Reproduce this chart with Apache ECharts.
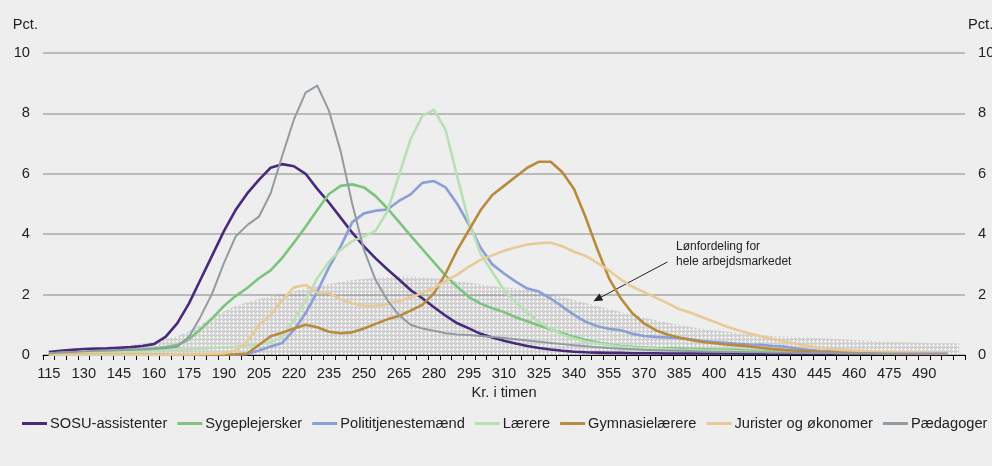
<!DOCTYPE html>
<html>
<head>
<meta charset="utf-8">
<script src="https://cdn.jsdelivr.net/npm/echarts@6/dist/echarts.min.js"></script>
<style>
  html, body { margin: 0; padding: 0; background: #eeeeee; }
  #chart { width: 992px; height: 466px; }
</style>
</head>
<body>
<div id="chart"></div>
<script>
// kr. i timen (5 kr. intervaller)
const categories = [
  "115", "120", "125", "130", "135", "140", "145", "150", "155", "160",
  "165", "170", "175", "180", "185", "190", "195", "200", "205", "210",
  "215", "220", "225", "230", "235", "240", "245", "250", "255", "260",
  "265", "270", "275", "280", "285", "290", "295", "300", "305", "310",
  "315", "320", "325", "330", "335", "340", "345", "350", "355", "360",
  "365", "370", "375", "380", "385", "390", "395", "400", "405", "410",
  "415", "420", "425", "430", "435", "440", "445", "450", "455", "460",
  "465", "470", "475", "480", "485", "490", "495", "500", "505",
];
const yTicks = [0, 2, 4, 6, 8, 10];

const sosu = [
  0.10, 0.14, 0.17, 0.20, 0.21, 0.22, 0.24, 0.26, 0.30, 0.36,
  0.60, 1.05, 1.70, 2.50, 3.30, 4.10, 4.80, 5.35, 5.80, 6.20,
  6.32, 6.25, 6.00, 5.50, 5.05, 4.55, 4.05, 3.60, 3.20, 2.84,
  2.50, 2.15, 1.88, 1.58, 1.30, 1.05, 0.88, 0.70, 0.58, 0.47,
  0.38, 0.30, 0.23, 0.18, 0.14, 0.11, 0.09, 0.08, 0.07, 0.07,
  0.06, 0.06, 0.06, 0.05, 0.05, 0.05, 0.05, 0.05, 0.05, 0.05,
  0.04, 0.04, 0.04, 0.04, 0.04, 0.04, 0.04, 0.04, 0.04, 0.04,
  0.04, 0.04, 0.04, 0.03, 0.03, 0.03, 0.03, 0.03, null,
];
const sygeplejersker = [
  0.05, 0.07, 0.09, 0.10, 0.12, 0.13, 0.15, 0.17, 0.19, 0.22,
  0.26, 0.33, 0.52, 0.85, 1.22, 1.62, 1.95, 2.22, 2.54, 2.80,
  3.22, 3.72, 4.25, 4.80, 5.33, 5.60, 5.65, 5.55, 5.26, 4.86,
  4.41, 3.95, 3.51, 3.07, 2.63, 2.25, 1.92, 1.70, 1.55, 1.42,
  1.25, 1.12, 0.98, 0.85, 0.72, 0.60, 0.50, 0.41, 0.35, 0.30,
  0.27, 0.25, 0.23, 0.22, 0.21, 0.20, 0.19, 0.18, 0.17, 0.16,
  0.15, 0.14, 0.13, 0.12, 0.11, 0.10, 0.10, 0.09, 0.09, 0.08,
  0.08, 0.07, 0.07, 0.06, 0.06, 0.05, 0.05, 0.05, null,
];
const politi = [
  0, 0, 0, 0, 0, 0, 0, 0, 0, 0,
  0, 0, 0, 0, 0, 0, 0.01, 0.03, 0.15, 0.28,
  0.40, 0.83, 1.38, 2.10, 2.90, 3.59, 4.40, 4.69, 4.78, 4.82,
  5.10, 5.32, 5.70, 5.76, 5.55, 5.00, 4.32, 3.55, 3.00, 2.70,
  2.43, 2.20, 2.10, 1.87, 1.60, 1.33, 1.10, 0.95, 0.87, 0.82,
  0.70, 0.63, 0.60, 0.58, 0.56, 0.52, 0.46, 0.43, 0.40, 0.37,
  0.35, 0.34, 0.30, 0.28, 0.22, 0.17, 0.14, 0.12, 0.10, 0.09,
  0.08, 0.08, 0.07, 0.07, 0.06, 0.06, 0.05, 0.05, null,
];
const laerere = [
  0.02, 0.04, 0.05, 0.06, 0.07, 0.08, 0.09, 0.10, 0.12, 0.13,
  0.15, 0.17, 0.19, 0.21, 0.23, 0.25, 0.27, 0.32, 0.36, 0.42,
  0.60, 1.16, 1.82, 2.54, 3.09, 3.48, 3.77, 3.92, 4.12, 4.75,
  5.95, 7.15, 7.92, 8.12, 7.45, 5.90, 4.40, 3.35, 2.75, 2.15,
  1.75, 1.40, 1.10, 0.87, 0.67, 0.55, 0.45, 0.38, 0.33, 0.28,
  0.25, 0.23, 0.21, 0.19, 0.17, 0.16, 0.15, 0.14, 0.13, 0.12,
  0.11, 0.11, 0.10, 0.10, 0.09, 0.09, 0.08, 0.08, 0.07, 0.07,
  0.07, 0.06, 0.06, 0.06, 0.05, 0.05, 0.05, 0.05, null,
];
const gymnasie = [
  0.01, 0.01, 0.01, 0.01, 0.01, 0.01, 0.01, 0.01, 0.01, 0.01,
  0.01, 0.01, 0.01, 0.01, 0.01, 0.01, 0.02, 0.05, 0.33, 0.62,
  0.74, 0.88, 1.00, 0.92, 0.77, 0.72, 0.75, 0.88, 1.03, 1.18,
  1.29, 1.47, 1.66, 2.04, 2.70, 3.48, 4.14, 4.80, 5.30, 5.60,
  5.90, 6.20, 6.40, 6.40, 6.05, 5.50, 4.55, 3.50, 2.54, 1.88,
  1.38, 1.05, 0.82, 0.68, 0.58, 0.50, 0.43, 0.39, 0.35, 0.32,
  0.28, 0.24, 0.20, 0.17, 0.14, 0.12, 0.10, 0.09, 0.08, 0.07,
  0.07, 0.06, 0.06, 0.05, 0.05, 0.05, 0.04, 0.04, null,
];
const jurister = [
  0.01, 0.01, 0.01, 0.01, 0.01, 0.01, 0.01, 0.01, 0.01, 0.01,
  0.01, 0.02, 0.02, 0.03, 0.04, 0.05, 0.15, 0.45, 0.99, 1.32,
  1.82, 2.24, 2.32, 2.07, 2.06, 1.84, 1.71, 1.62, 1.63, 1.68,
  1.79, 1.90, 2.06, 2.22, 2.45, 2.66, 2.93, 3.15, 3.30, 3.45,
  3.56, 3.66, 3.70, 3.72, 3.60, 3.42, 3.28, 3.05, 2.80, 2.50,
  2.26, 2.08, 1.90, 1.72, 1.52, 1.40, 1.25, 1.10, 0.95, 0.83,
  0.72, 0.62, 0.53, 0.45, 0.37, 0.30, 0.25, 0.20, 0.17, 0.15,
  0.13, 0.11, 0.10, 0.09, 0.08, 0.07, 0.06, 0.05, null,
];
const paedagoger = [
  0.05, 0.08, 0.10, 0.12, 0.14, 0.15, 0.16, 0.17, 0.18, 0.20,
  0.22, 0.27, 0.60, 1.27, 2.04, 3.04, 3.92, 4.30, 4.58, 5.35,
  6.60, 7.80, 8.69, 8.92, 8.09, 6.75, 5.00, 3.48, 2.48, 1.82,
  1.32, 1.00, 0.88, 0.80, 0.72, 0.68, 0.66, 0.63, 0.60, 0.56,
  0.52, 0.48, 0.44, 0.40, 0.36, 0.32, 0.29, 0.26, 0.23, 0.21,
  0.19, 0.17, 0.16, 0.15, 0.14, 0.13, 0.12, 0.11, 0.10, 0.10,
  0.09, 0.09, 0.08, 0.08, 0.08, 0.07, 0.07, 0.07, 0.06, 0.06,
  0.06, 0.06, 0.05, 0.05, 0.05, 0.05, 0.05, 0.05, null,
];
// hele arbejdsmarkedet (skraveret areal)
const heleMarkedet = [
  0.02, 0.05, 0.08, 0.12, 0.17, 0.22, 0.28, 0.33, 0.38, 0.44,
  0.52, 0.62, 0.80, 1.00, 1.25, 1.45, 1.62, 1.75, 1.85, 1.93,
  2.00, 2.10, 2.20, 2.28, 2.35, 2.42, 2.48, 2.52, 2.56, 2.58,
  2.60, 2.60, 2.58, 2.55, 2.50, 2.45, 2.40, 2.34, 2.28, 2.24,
  2.20, 2.15, 2.08, 2.00, 1.92, 1.82, 1.72, 1.62, 1.52, 1.42,
  1.33, 1.24, 1.15, 1.07, 1.00, 0.93, 0.87, 0.82, 0.78, 0.74,
  0.70, 0.66, 0.63, 0.61, 0.60, 0.58, 0.56, 0.54, 0.52, 0.50,
  0.48, 0.46, 0.44, 0.42, 0.41, 0.40, 0.39, 0.39, 0.38,
];

const names = [
  "SOSU-assistenter", "Sygeplejersker", "Polititjenestemænd", "Lærere",
  "Gymnasielærere", "Jurister og økonomer", "Pædagoger",
];
const values = [sosu, sygeplejersker, politi, laerere, gymnasie, jurister, paedagoger];
const colors = ["#47297d", "#7cc47d", "#8c9ed6", "#b9e0b4", "#b88a3b", "#e8ca98", "#929aa2"];

// lille prikmønster til arealet (halvgennemsigtigt, så gitterlinjen ses igennem)
const makePattern = () => {
  const c = document.createElement("canvas");
  c.width = 4;
  c.height = 4;
  const ctx = c.getContext("2d");
  ctx.fillStyle = "rgba(140,140,140,0.3)";
  ctx.fillRect(0, 0, 4, 4);
  ctx.clearRect(1, 0, 1, 3);
  ctx.clearRect(0, 1, 3, 1);
  ctx.fillStyle = "rgba(255,255,255,0.3)";
  ctx.fillRect(1, 0, 1, 3);
  ctx.fillRect(0, 1, 3, 1);
  return c;
};

const font = "'Liberation Sans', Arial, sans-serif";
const fs = 14.67;
const chart = echarts.init(document.getElementById("chart"));

const lineSeries = names.map((name, i) => ({
  name: name,
  type: "line",
  data: values[i],
  symbol: "none",
  smooth: false,
  z: 3 + i,
  lineStyle: { color: colors[i], width: i === 6 ? 2 : 2.6, join: "round" },
  itemStyle: { color: colors[i] },
}));

const option = {
  backgroundColor: "#eeeeee",
  animation: false,
  textStyle: { fontFamily: font, color: "#222" },
  grid: { left: 43, right: 27, top: 53, bottom: 111, containLabel: false, outerBoundsMode: "none" },
  legend: {
    data: names,
    top: 411,
    left: 22,
    width: 970,
    padding: [5, 0, 5, 0],
    icon: "rect",
    itemWidth: 25,
    itemHeight: 3,
    itemGap: 10,
    textStyle: { fontFamily: font, fontSize: fs, color: "#222", padding: [0, 0, 0, -2] },
  },
  xAxis: {
    type: "category",
    data: categories,
    boundaryGap: true,
    name: "Kr. i timen",
    nameLocation: "middle",
    nameGap: 30,
    nameTextStyle: { fontSize: fs, color: "#222" },
    axisLine: { lineStyle: { color: "#000", width: 1 } },
    axisTick: { show: true, interval: 0, length: 5, lineStyle: { color: "#000" } },
    axisLabel: {
      interval: (idx) => idx % 3 === 0 && idx < categories.length - 1,
      fontSize: fs,
      color: "#222",
      margin: 11,
    },
    splitLine: { show: false },
  },
  yAxis: [
    {
      type: "value",
      min: yTicks[0],
      max: yTicks[yTicks.length - 1],
      interval: 2,
      name: "Pct.",
      nameLocation: "end",
      nameGap: 21,
      nameTextStyle: { fontSize: fs, color: "#222", align: "right", padding: [0, 5, 0, 0] },
      axisLine: { show: false },
      axisTick: { show: false },
      axisLabel: { fontSize: fs, color: "#222", margin: 13 },
      splitLine: { lineStyle: { color: "#a8a8a8", width: 1.5 } },
    },
    {
      type: "value",
      position: "right",
      min: yTicks[0],
      max: yTicks[yTicks.length - 1],
      interval: 2,
      name: "Pct.",
      nameLocation: "end",
      nameGap: 21,
      nameTextStyle: { fontSize: fs, color: "#222", align: "left", padding: [0, 0, 0, 3] },
      axisLine: { show: false },
      axisTick: { show: false },
      axisLabel: { fontSize: fs, color: "#222", margin: 13 },
      splitLine: { show: false },
    },
  ],
  graphic: [
    {
      type: "text",
      left: 676,
      top: 239,
      style: {
        text: "Lønfordeling for\nhele arbejdsmarkedet",
        font: "12px " + font,
        fill: "#222",
        lineHeight: 15,
      },
    },
  ],
  series: [
    {
      name: "Hele arbejdsmarkedet",
      type: "line",
      data: heleMarkedet,
      symbol: "none",
      smooth: 0.3,
      z: 1,
      lineStyle: { width: 0 },
      areaStyle: { color: { image: makePattern(), repeat: "repeat" }, opacity: 1 },
      markLine: {
        silent: true,
        symbol: ["none", "triangle"],
        symbolSize: [8, 9],
        lineStyle: { color: "#222", width: 1, type: "solid" },
        label: { show: false },
        data: [[{ coord: ["380", 3.08] }, { coord: ["350", 1.85] }]],
      },
    },
    ...lineSeries,
  ],
};

chart.setOption(option);
</script>
</body>
</html>
